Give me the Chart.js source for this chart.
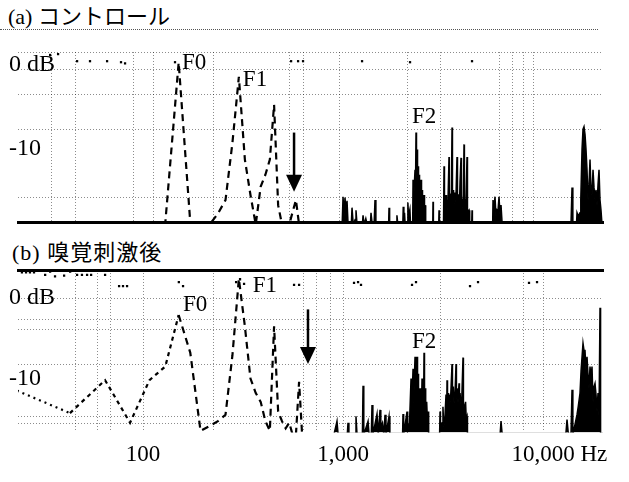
<!DOCTYPE html>
<html>
<head>
<meta charset="utf-8">
<script src="https://cdn.jsdelivr.net/npm/chart.js@4.4.1/dist/chart.umd.min.js"></script>
<style>
body { margin:0; background:#fff; width:629px; height:482px; position:relative; overflow:hidden; font-family:"Liberation Serif","Noto Sans CJK JP",serif; }
.panel { position:absolute; left:0; width:629px; }
.title { position:absolute; font-size:22px; line-height:26px; color:#000; white-space:nowrap; }
#rule { position:absolute; left:0; top:29px; width:598px; border-top:1px dotted #555; }
</style>
</head>
<body>
<div class="title" style="left:8px;top:4px">(a) コントロール</div>
<div id="rule"></div>
<div class="panel" style="top:0;height:232px"><canvas id="chartA"></canvas></div>
<div class="title" style="left:12px;top:240px;letter-spacing:1px">(b) 嗅覚刺激後</div>
<div class="panel" style="top:262px;height:220px"><canvas id="chartB"></canvas></div>
<script>
/* Frequency axis (Hz, log) */
const hzMin = 23.7;
const hzMax = 19950;
const hzTicks = [100, 1000, 10000];
const hzTickLabels = ['100', '1,000', '10,000'];
const hzUnit = 'Hz';
const formantNames = ['F0', 'F1', 'F2'];

/* (a) control : [Hz, dB] */
const dbRangeA = [-18.7, 1.45];
const gridHzA = [34.7, 46.2, 89.1, 112.2, 223.9, 543, 631, 955, 2089, 3055, 6026, 7015, 7943, 8913];
const gridDbA = [-15.8, -7.7, -3.6, -0.6, 1.45];
const labelDbA = [-10, 0];
const lowA = [
[23.7,-19],[107.7,-19],[129.2,-18.8],[150.7,0.2],[172.3,-18.8],[193.8,-19],[215.3,-19],[236.9,-17.7],
[258.4,-16.1],[279.9,-9.3],[301.4,-1.5],[323.0,-11.3],[344.5,-15.5],[366.0,-19],[387.5,-14.5],[409.0,-13.1],
[430.6,-11.3],[452.1,-4.8],[473.7,-16.7],[495.2,-19],[538.3,-19],[559.8,-17.5],[581.4,-16.1],[602.9,-19],[990,-19]
];
const highA = [
[990,-19],[1000,-15.7],[1012,-18],[1023,-15.8],[1035,-17.5],[1047,-16.2],[1060,-19],[1100,-19],[1109,-17.0],
[1125,-19],[1150,-18.4],[1161,-17.3],[1175,-19],[1250,-19],[1259,-17.9],[1275,-19],[1300,-18.3],[1320,-19],
[1370,-19],[1380,-17.6],[1400,-19],[1430,-19],[1445,-16.1],[1460,-19],[1690,-19],[1698,-17.0],[1710,-19],
[1850,-19],[1860,-17.9],[1880,-19],[1990,-19],[2000,-16.9],[2015,-19],[2030,-17.6],[2045,-19],[2100,-19],
[2110,-16.4],[2125,-18],[2160,-17.2],[2175,-19],[2230,-19],[2239,-13.7],[2265,-15],[2291,-12.5],[2305,-14],
[2317,-8.1],[2330,-12],[2344,-10.1],[2358,-14],[2371,-12.1],[2385,-14.5],[2399,-13.1],[2413,-15],[2427,-14.3],
[2441,-16],[2455,-13.7],[2469,-15.5],[2483,-14.9],[2497,-17],[2512,-16.1],[2527,-17.5],[2541,-15.5],[2555,-18],
[2570,-16.7],[2590,-19],[2810,-19],[2818,-16.3],[2830,-19],[3010,-19],[3020,-17.3],[3035,-19],[3180,-19],
[3199,-12.1],[3215,-18],[3273,-15.5],[3290,-18],[3350,-16],[3388,-11.0],[3400,-17],[3428,-15.5],[3480,-16],
[3508,-7.5],[3525,-16],[3548,-14.9],[3570,-17],[3589,-15.2],[3620,-16.5],[3673,-15.5],[3715,-11.0],[3735,-16],
[3758,-15.5],[3802,-15.5],[3820,-17],[3846,-14],[3890,-11.1],[3910,-16],[3936,-16.1],[3960,-17],[4000,-15.5],
[4027,-9.5],[4045,-16],[4074,-16.1],[4100,-17.5],[4121,-16],[4169,-11.0],[4190,-17.5],[4266,-17.3],[4300,-19],
[4400,-19],[4416,-17.3],[4435,-19],[5600,-19],[5623,-16.1],[5690,-17],[5754,-15.7],[5820,-18],[5888,-17.3],
[5950,-17.5],[6026,-15.7],[6100,-18],[6166,-16.7],[6250,-19],[13800,-19],[13964,-14.6],[14100,-19],[14700,-19],
[14791,-17.6],[15000,-18],[15311,-17.6],[15450,-16],[15488,-14.9],[15668,-10.1],[15849,-7.7],[16032,-7.4],
[16218,-8.3],[16406,-10.1],[16596,-12.5],[16788,-16.1],[16982,-14.3],[17179,-11.3],[17378,-14.9],[17579,-15.5],
[17783,-12.5],[17989,-14.6],[18197,-16.1],[18408,-14.9],[18621,-16.7],[18836,-14.3],[19055,-12.5],[19275,-16.1],
[19498,-17.3],[19724,-19],[19953,-19]
];
const marksA = [[34.3,1.1],[37.6,1.2],[46.8,0.36],[54.3,0.36],[66.1,0.36],[77.6,0.24],[81.3,0.1],[144.5,0.24],
[550,0.36],[596,0.36],[631,0.36],[1245,0.36],[2163,0.24],[4416,0.36]];
const formantHzA = [180, 363, 2541];
const formantDbA = [0.2, -1.9, -6.3];
const arrowA = [569, -8.1, -15.1];

/* (b) after olfactory stimulus : [Hz, dB] */
const dbRangeB = [-16.7, 3.5];
const gridHzB = [45.7, 58.9, 68.4, 100, 223.9, 631, 741, 861, 1000, 3055, 7943, 10000];
const gridDbB = [-15.6, -14.7, -8.2, -3.9, -2.7, 0];
const labelDbB = [-10];
const lowB = [
[23.4,-11.5],[43.1,-14.3],[64.6,-10.2],[86.1,-15.5],[107.7,-10.2],[129.2,-8.5],[150.7,-2.1],[172.3,-6.8],
[193.8,-16.5],[215.3,-15.9],[236.9,-15.3],[258.4,-14.5],[279.9,-7.1],[301.4,2.4],[323.0,-3.5],[344.5,-10.0],
[366.0,-11.8],[387.5,-12.9],[409.0,-15.3],[430.6,-16.5],[452.1,-3.5],[473.7,-14.1],[495.2,-15.3],[516.8,-16.2],
[538.3,-15.5],[559.8,-17],[581.4,-17],[602.9,-10.4],[624.5,-17],[900,-17]
];
const highB = [
[900,-17],[933,-15.3],[945,-17],[1050,-17],[1059,-15.5],[1070,-17],[1150,-17],[1161,-14.7],[1175,-17],
[1250,-17],[1259,-10.9],[1270,-17],[1334,-15.3],[1350,-17],[1385,-17],[1396,-13.3],[1410,-17],[1479,-14.4],
[1500,-17],[1531,-13.9],[1545,-16],[1575,-15.5],[1600,-17],[1622,-14.5],[1640,-17],[1698,-14.7],[1715,-17],
[1985,-17],[1995,-14.4],[2010,-17],[2089,-14.1],[2105,-16.5],[2150,-15.5],[2188,-10.0],[2205,-14],[2239,-8.8],
[2255,-13],[2291,-7.3],[2305,-11],[2344,-7.3],[2358,-12],[2371,-9.4],[2385,-13],[2399,-11.5],[2413,-14],
[2427,-11.2],[2441,-13],[2455,-12.5],[2469,-14],[2483,-10.0],[2497,-13.5],[2512,-12],[2527,-14],[2541,-6.8],
[2555,-13],[2570,-11.2],[2590,-14],[2620,-12.9],[2640,-15],[2661,-14.1],[2680,-17],[3040,-17],[3055,-14.1],
[3070,-16],[3130,-15.5],[3160,-13.5],[3190,-16],[3230,-15],[3273,-12],[3300,-14.5],[3311,-10.2],[3330,-13],
[3350,-11.8],[3370,-14],[3388,-12],[3420,-13],[3450,-12.5],[3508,-8.2],[3525,-12],[3560,-11],[3590,-13],
[3630,-12],[3673,-8.2],[3690,-12.5],[3720,-11.2],[3758,-13],[3802,-10.6],[3820,-12.5],[3846,-11.8],[3900,-13.5],
[3930,-12],[3981,-7.4],[4000,-13],[4050,-14],[4100,-12.9],[4130,-15],[4169,-14.7],[4190,-17],[6100,-17],
[6166,-15.3],[6250,-17],[13000,-17],[13183,-15.1],[13400,-17],[13800,-17],[13964,-11.4],[14100,-17],[14791,-14.5],
[15000,-13.5],[15311,-11.8],[15500,-9],[15849,-5.6],[16032,-6.5],[16218,-6.5],[16406,-9],[16596,-7.3],
[16788,-9.5],[16982,-11.2],[17179,-8.5],[17378,-10],[17579,-8.5],[17783,-12.9],[17989,-11],[18197,-10.6],
[18408,-12],[18621,-14.1],[18836,-11.8],[19055,-14.7],[19275,-1.2],[19400,-17],[19953,-17]
];
const marksB = [[24.8,3.2],[26,3.2],[27.2,3.2],[28.5,3.2],[32.4,2.9],[34.3,3.3],[36.3,2.7],[40.3,2.8],[43.2,3.3],
[46.8,2.9],[49.5,2.9],[52.5,2.9],[55,2.9],[64.6,2.9],[75.9,1.5],[79.4,1.5],[83.2,1.5],[151,2.0],[158.5,1.5],
[292,2.0],[305.5,2.35],[320,1.76],[569,1.65],[603,1.65],[1135,1.9],[1189,2.0],[1230,1.65],[2213,1.65],
[2317,2.0],[4315,1.5],[4732,2.0],[8511,1.9],[9333,2.0]];
const formantHzB = [182, 407, 2541];
const formantDbB = [-0.9, 1.5, -5.5];
const arrowB = [668, -1.4, -8.2];

/* Styles */
const serif = "'Liberation Serif', 'Times New Roman', serif";
const gridCol = 'rgba(0,0,0,0.45)';
const clear = 'rgba(0,0,0,0)';

function xy(list) {
    return list.map(function(p) { return {x: p[0], y: p[1]}; });
}

/* Formant names, arrow and the unit after the last tick */
function notes(id, hz, db, arrow, unit) {
    return {
        id: id,
        afterDatasetsDraw: function(chart) {
            var ctx = chart.ctx, xs = chart.scales.x, ys = chart.scales.y;
            ctx.save();
            ctx.fillStyle = '#000';
            ctx.strokeStyle = '#000';
            ctx.font = '23px ' + serif;
            ctx.textAlign = 'center';
            ctx.textBaseline = 'middle';
            for (let i = 0; i < formantNames.length; i++) {
                ctx.fillText(formantNames[i], xs.getPixelForValue(hz[i]), ys.getPixelForValue(db[i]));
            }
            var ax = xs.getPixelForValue(arrow[0]);
            var y0 = ys.getPixelForValue(arrow[1]);
            var y1 = ys.getPixelForValue(arrow[2]);
            ctx.lineWidth = 2.5;
            ctx.beginPath(); ctx.moveTo(ax, y0); ctx.lineTo(ax, y1 - 15); ctx.stroke();
            ctx.beginPath(); ctx.moveTo(ax - 8, y1 - 17); ctx.lineTo(ax + 8, y1 - 17); ctx.lineTo(ax, y1); ctx.closePath(); ctx.fill();
            ctx.restore();
        },
        afterDraw: function(chart) {
            if (!unit) return;
            var xs = chart.scales.x;
            var items = xs.getLabelItems();
            var last = hzTickLabels[hzTickLabels.length - 1];
            var it = items.find(function(d) { return d.label === last; });
            if (!it) return;
            var ctx = chart.ctx;
            ctx.save();
            ctx.font = it.font.string;
            ctx.fillStyle = '#000';
            ctx.textAlign = 'left';
            ctx.textBaseline = it.options.textBaseline;
            var tx = it.options.translation[0] + ctx.measureText(last).width / 2;
            ctx.fillText(' ' + unit, tx, it.options.translation[1] + it.textOffset);
            ctx.restore();
        }
    };
}

function yAxis(range, grid, labelsOnly) {
    var all = grid.concat(labelsOnly).sort(function(a, b) { return a - b; });
    return {
        type: 'linear',
        min: range[0],
        max: range[1],
        afterBuildTicks: function(axis) { axis.ticks = all.map(function(v) { return {value: v}; }); },
        afterFit: function(axis) { axis.width = 0; },
        ticks: {
            mirror: true,
            padding: -9,
            autoSkip: false,
            color: '#000',
            font: {family: serif, size: 24},
            callback: function(v) { return v === 0 ? '0 dB' : (v === -10 ? '-10' : ''); }
        },
        grid: {
            drawTicks: false,
            lineWidth: 1,
            color: function(c) { return (c.tick && grid.indexOf(c.tick.value) < 0) ? clear : gridCol; }
        },
        border: {display: false, dash: [1, 2]}
    };
}

/* (a) */
var chartA = new Chart(document.getElementById('chartA'), {
    type: 'line',
    data: {
        datasets: [
        {
            label: 'low',
            data: xy(lowA),
            borderColor: '#000',
            borderWidth: 2.2,
            borderDash: [7, 5],
            pointRadius: 0,
            tension: 0,
            fill: false
        },
        {
            label: 'high',
            data: xy(highA),
            borderColor: '#000',
            backgroundColor: '#000',
            borderWidth: 1.5,
            pointRadius: 0,
            tension: 0,
            fill: 'start'
        },
        {
            label: 'marks',
            type: 'scatter',
            data: xy(marksA),
            pointStyle: 'rect',
            pointRadius: 1.6,
            backgroundColor: '#000',
            borderWidth: 0
        }
        ]
    },
    options: {
        responsive: true,
        maintainAspectRatio: false,
        animation: false,
        layout: {padding: {top: 52, left: 18, right: 26, bottom: 10}},
        plugins: {legend: {display: false}, tooltip: {enabled: false}},
        scales: {
            x: {
                type: 'logarithmic',
                min: hzMin,
                max: hzMax,
                afterBuildTicks: function(axis) { axis.ticks = gridHzA.map(function(v) { return {value: v}; }); },
                ticks: {display: false},
                grid: {drawTicks: false, color: gridCol, lineWidth: 1},
                border: {display: true, width: 3, color: '#000', dash: [1, 2]}
            },
            y: yAxis(dbRangeA, gridDbA, labelDbA)
        }
    },
    plugins: [notes('notesA', formantHzA, formantDbA, arrowA, null)]
});

/* (b) */
var chartB = new Chart(document.getElementById('chartB'), {
    type: 'line',
    data: {
        datasets: [
        {
            label: 'low',
            data: xy(lowB),
            borderColor: '#000',
            borderWidth: 2.2,
            borderDash: [7, 5],
            pointRadius: 0,
            tension: 0,
            fill: false,
            segment: {
                borderDash: function(c) { return c.p0.parsed.x < 40 ? [2, 4] : (c.p0.parsed.x < 140 ? [4, 4] : undefined); }
            }
        },
        {
            label: 'high',
            data: xy(highB),
            borderColor: '#000',
            backgroundColor: '#000',
            borderWidth: 1.5,
            pointRadius: 0,
            tension: 0,
            fill: 'start'
        },
        {
            label: 'marks',
            type: 'scatter',
            data: xy(marksB),
            pointStyle: 'rect',
            pointRadius: 1.6,
            backgroundColor: '#000',
            borderWidth: 0
        }
        ]
    },
    options: {
        responsive: true,
        maintainAspectRatio: false,
        animation: false,
        layout: {padding: {top: 8, left: 18, right: 26, bottom: 4}},
        plugins: {legend: {display: false}, tooltip: {enabled: false}},
        scales: {
            x: {
                type: 'logarithmic',
                min: hzMin,
                max: hzMax,
                afterBuildTicks: function(axis) { axis.ticks = gridHzB.map(function(v) { return {value: v}; }); },
                ticks: {
                    autoSkip: false,
                    maxRotation: 0,
                    padding: 9,
                    color: '#000',
                    font: {family: serif, size: 23},
                    callback: function(v) { var i = hzTicks.indexOf(v); return i < 0 ? '' : hzTickLabels[i]; }
                },
                grid: {drawTicks: false, color: gridCol, lineWidth: 1},
                border: {display: false, dash: [1, 2]}
            },
            x2: {
                type: 'logarithmic',
                position: 'top',
                min: hzMin,
                max: hzMax,
                ticks: {display: false},
                grid: {display: false, drawTicks: false},
                border: {display: true, width: 3, color: '#000'}
            },
            y: yAxis(dbRangeB, gridDbB, labelDbB)
        }
    },
    plugins: [notes('notesB', formantHzB, formantDbB, arrowB, hzUnit)]
});
</script>
</body>
</html>
